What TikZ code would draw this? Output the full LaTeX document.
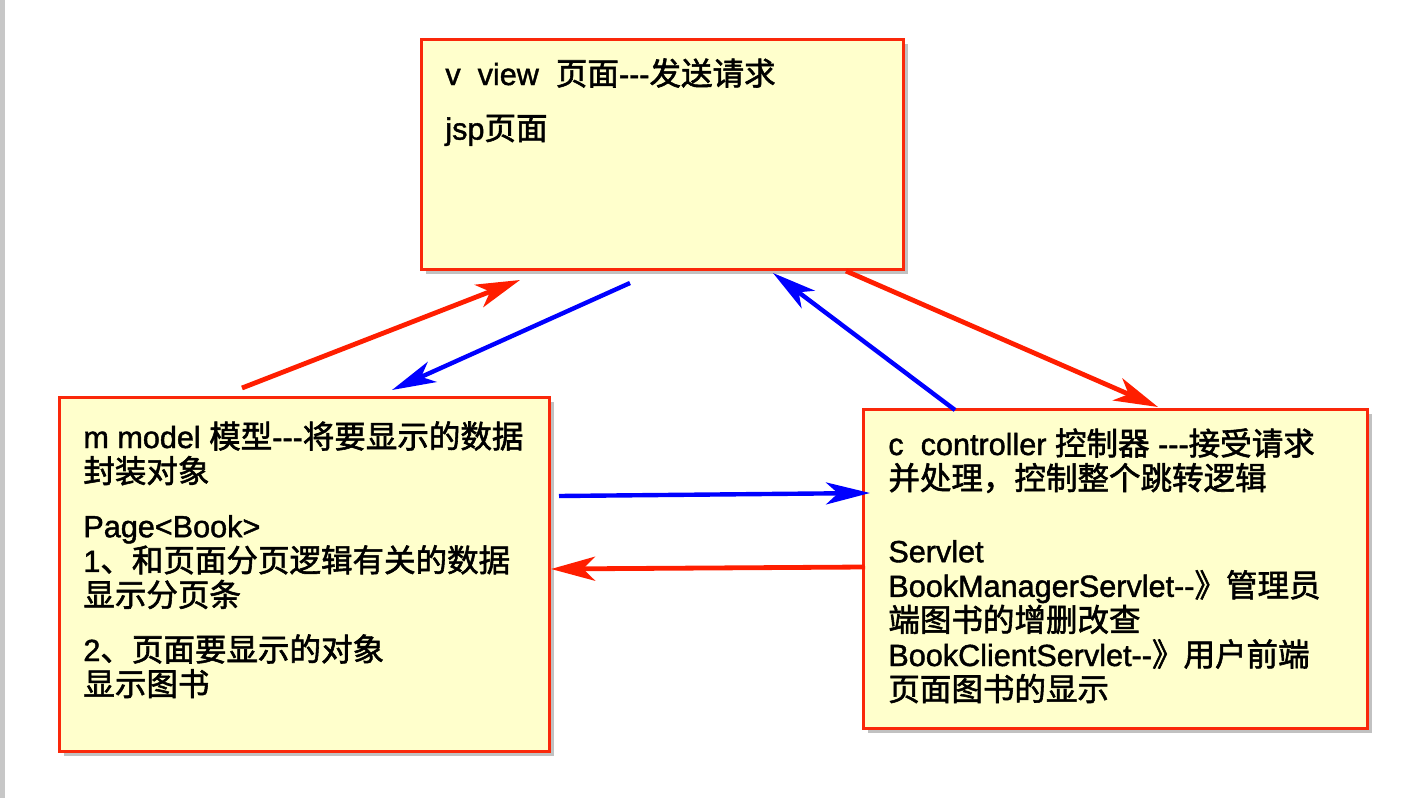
\documentclass[tikz,border=0pt]{standalone}
\usepackage{fontspec}
\usepackage{xcolor}
\usepackage{tikz}
\usetikzlibrary{arrows.meta,shadows}
\newfontfamily\lat{Liberation Sans}[FakeBold=1.4]
\newfontfamily\cjk{Noto Sans CJK SC}[Scale=1.03,FakeBold=1.8]
\newcommand\zh[1]{{\cjk #1}}
\definecolor{boxred}{RGB}{250,40,10}
\definecolor{boxfill}{RGB}{255,255,204}
\definecolor{arrred}{RGB}{255,30,0}
\definecolor{arrblue}{RGB}{0,0,255}

\begin{document}
\begin{tikzpicture}[x=0.5pt,y=-0.5pt,
  box/.style={draw=boxred,line width=1.5pt,fill=boxfill,rectangle,anchor=north west,inner sep=0pt,
    drop shadow={shadow xshift=2pt,shadow yshift=-2pt,opacity=.35,fill=black!70}},
  txt/.style={anchor=north west,inner sep=0pt,align=left,font=\lat\fontsize{15.3}{17.3}\selectfont},
  rarr/.style={draw=arrred,line width=2.4pt,-{Stealth[length=22pt,width=12pt,inset=6pt]}},
  barr/.style={draw=arrblue,line width=2.2pt,-{Stealth[length=22pt,width=11pt,inset=6pt]}}]
\useasboundingbox (0,0) rectangle (1410,798);
\fill[black!22] (0,0) rectangle (5,798);

\node[box,minimum width=241pt,minimum height=115pt] (view) at (420,38) {};
\node[box,minimum width=245pt,minimum height=177pt] (model) at (58,396) {};
\node[box,minimum width=252pt,minimum height=159.5pt] (ctrl) at (862,408) {};

\node[txt] (viewtxt) at ([shift={(25,20)}]view.north west) {v\ \ view\ \ \zh{页面}---\zh{发送请求}\\[10pt]jsp\zh{页面}};

\node[txt] (modeltxt) at ([shift={(25,25)}]model.north west) {m model \zh{模型}---\zh{将要显示的数据}\\\zh{封装对象}\\[10pt]
Page<Book>\\1\zh{、和页面分页逻辑有关的数据}\\\zh{显示分页条}\\[10pt]
2\zh{、页面要显示的对象}\\\zh{显示图书}};

\node[txt] (ctrltxt) at ([shift={(26,20)}]ctrl.north west) {c\ \ controller \zh{控制器} ---\zh{接受请求}\\\zh{并处理，控制整个跳转逻辑}\\[19pt]
Servlet\\BookManagerServlet--\zh{》管理员}\\\zh{端图书的增删改查}\\
BookClientServlet--\zh{》用户前端}\\\zh{页面图书的显示}};

% m <-> v
\draw[rarr] ([shift={(184,-8)}]model.north west) -- ([shift={(100,9)}]view.south west);
\draw[barr] ([shift={(210,12)}]view.south west) -- ([shift={(334,-6)}]model.north west);
% c <-> v
\draw[barr] ([shift={(93,2)}]ctrl.north west) -- ([shift={(-132,2)}]view.south east);
\draw[rarr] ([shift={(-59,0)}]view.south east) -- ([shift={(296,-1)}]ctrl.north west);
% m <-> c
\draw[barr] ([shift={(8,100)}]model.north east) -- ([shift={(8,85)}]ctrl.north west);
\draw[rarr] ([shift={(3,159)}]ctrl.north west) -- ([shift={(0,173)}]model.north east);
\end{tikzpicture}
\end{document}
